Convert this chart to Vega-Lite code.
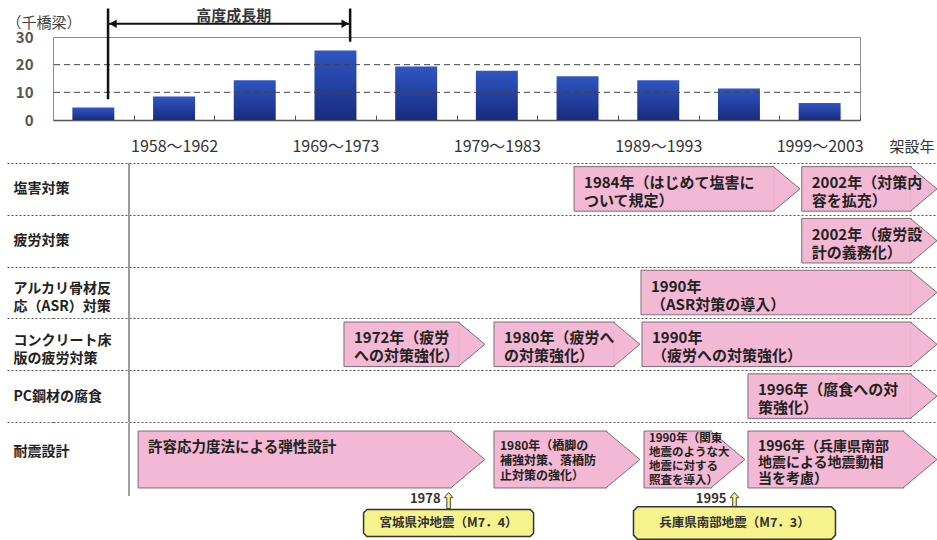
{
  "$schema": "https://vega.github.io/schema/vega-lite/v6.json",
  "background": "white",
  "padding": {"top": 6, "left": 5, "right": 0, "bottom": 0},
  "config": {"font": "Noto Sans CJK JP", "view": {"stroke": null}, "axisY": {"labelOverlap": false}},
  "spacing": 1,
  "resolve": {"scale": {"x": "independent", "y": "independent"}},
  "vconcat": [
    {
      "width": 807,
      "height": 83,
      "view": {"stroke": "#8c8c8c"},
      "layer": [
        {
          "data": {"values": [
            {"period": "1953～1957", "bridges": 4.5},
            {"period": "1958～1962", "bridges": 8.5},
            {"period": "1963～1968", "bridges": 14.4},
            {"period": "1969～1973", "bridges": 25.1},
            {"period": "1974～1978", "bridges": 19.3},
            {"period": "1979～1983", "bridges": 17.8},
            {"period": "1984～1988", "bridges": 15.8},
            {"period": "1989～1993", "bridges": 14.4},
            {"period": "1994～1998", "bridges": 11.4},
            {"period": "1999～2003", "bridges": 6.1}
          ]},
          "mark": {"type": "bar", "color": {"gradient": "linear", "x1": 0, "y1": 0, "x2": 0, "y2": 1, "stops": [{"offset": 0, "color": "#2f56c2"}, {"offset": 1, "color": "#182b80"}]}},
          "encoding": {
            "x": {
              "field": "period", "type": "ordinal",
              "scale": {"domain": ["1953～1957", "1958～1962", "1963～1968", "1969～1973", "1974～1978", "1979～1983", "1984～1988", "1989～1993", "1994～1998", "1999～2003"], "paddingInner": 0.48, "paddingOuter": 0.24},
              "axis": {
                "title": "架設年", "titleX": 836, "titleY": 26, "titleAlign": "left", "titleBaseline": "middle", "titleFontSize": 15, "titleFontWeight": "normal", "titleColor": "#333",
                "labelExpr": "indexof(['1958～1962','1969～1973','1979～1983','1989～1993','1999～2003'], datum.value) >= 0 ? datum.value : ''",
                "labelAngle": 0, "labelFontSize": 16, "labelColor": "#333", "labelBaseline": "middle", "labelPadding": 31, "labelOverlap": false,
                "tickSize": -5, "tickOffset": 40.35, "labelOffset": -40.35, "tickColor": "#555",
                "domainColor": "#555", "domainWidth": 1.5
              }
            },
            "y": {
              "field": "bridges", "type": "quantitative",
              "scale": {"domain": [0, 30], "nice": false},
              "axis": {
                "values": [0, 10, 20, 30], "tickCount": 4, "labelOverlap": false, "labelFlush": false, "labelBound": false,
                "title": "（千橋梁）", "titleAngle": 0, "titleX": -47, "titleY": -15, "titleAlign": "left", "titleBaseline": "middle", "titleFontSize": 15, "titleFontWeight": "normal", "titleColor": "#444",
                "labelFontSize": 15, "labelFontWeight": "bold", "labelColor": "#555", "ticks": false, "labelPadding": 20, "domain": false,
                "grid": false
              }
            }
          }
        },
        {
          "data": {"values": [{"bridges": 10}, {"bridges": 20}]},
          "mark": {"type": "rule", "color": "#444", "strokeDash": [6, 4], "strokeWidth": 1},
          "encoding": {
            "y": {"field": "bridges", "type": "quantitative"}
          }
        },
        {
          "data": {"values": [
            {"period": "1953～1957", "top": 40.3, "bottom": 7.5},
            {"period": "1969～1973", "top": 40.3, "bottom": 28.3}
          ]},
          "mark": {"type": "rule", "strokeWidth": 2.5, "color": "#111"},
          "encoding": {
            "x": {"field": "period", "type": "ordinal", "bandPosition": 0.85},
            "y": {"field": "top", "type": "quantitative"},
            "y2": {"field": "bottom"}
          }
        },
        {
          "data": {"values": [
            {"period": "1953～1957", "level": 34.8, "end": "left"},
            {"period": "1969～1973", "level": 34.8, "end": "right"}
          ]},
          "layer": [
            {
              "mark": {"type": "line", "strokeWidth": 2, "color": "#111"},
              "encoding": {
                "x": {"field": "period", "type": "ordinal", "bandPosition": 0.85},
                "y": {"field": "level", "type": "quantitative"}
              }
            },
            {
              "transform": [{"filter": "datum.end === 'left'"}],
              "mark": {"type": "point", "shape": "triangle-left", "filled": true, "opacity": 1, "size": 70, "color": "#111", "xOffset": 5},
              "encoding": {
                "x": {"field": "period", "type": "ordinal", "bandPosition": 0.85},
                "y": {"field": "level", "type": "quantitative"}
              }
            },
            {
              "transform": [{"filter": "datum.end === 'right'"}],
              "mark": {"type": "point", "shape": "triangle-right", "filled": true, "opacity": 1, "size": 70, "color": "#111", "xOffset": -5},
              "encoding": {
                "x": {"field": "period", "type": "ordinal", "bandPosition": 0.85},
                "y": {"field": "level", "type": "quantitative"}
              }
            }
          ]
        },
        {
          "data": {"values": [{"period": "1963～1968", "level": 37.7, "label": "高度成長期"}]},
          "mark": {"type": "text", "fontSize": 15, "fontWeight": "bold", "color": "#333", "baseline": "middle"},
          "encoding": {
            "x": {"field": "period", "type": "ordinal", "bandPosition": 0},
            "y": {"field": "level", "type": "quantitative"},
            "text": {"field": "label"}
          }
        }
      ]
    },
    {
      "spacing": -7,
      "resolve": {"scale": {"x": "independent", "y": "independent"}},
      "vconcat": [
        {
          "width": 885,
          "height": 259,
          "data": {"values": [
            {"row": "塩害対策", "start": 1985.46, "end": 1998.95, "label": "1984年（はじめて塩害に\nついて規定）"},
            {"row": "塩害対策", "start": 1999.0, "end": 2007.1, "label": "2002年（対策内\n容を拡充）"},
            {"row": "疲労対策", "start": 1999.0, "end": 2007.1, "label": "2002年（疲労設\n計の義務化）"},
            {"row": "アルカリ骨材反\n応（ASR）対策", "start": 1989.44, "end": 2007.1, "label": "1990年\n（ASR対策の導入）"},
            {"row": "コンクリート床\n版の疲労対策", "start": 1971.78, "end": 1980.22, "label": "1972年（疲労\nへの対策強化）"},
            {"row": "コンクリート床\n版の疲労対策", "start": 1980.7, "end": 1989.44, "label": "1980年（疲労へ\nの対策強化）"},
            {"row": "コンクリート床\n版の疲労対策", "start": 1989.5, "end": 2007.1, "label": "1990年\n（疲労への対策強化）"},
            {"row": "PC鋼材の腐食", "start": 1995.8, "end": 2007.1, "label": "1996年（腐食への対\n策強化）"}
          ]},
          "layer": [
            {
              "mark": {"type": "bar", "height": {"band": 0.86}, "fill": "#f3b8d3", "stroke": "#806b76", "strokeWidth": 1, "x2Offset": -26.7},
              "encoding": {
                "x": {"field": "start", "type": "quantitative", "scale": {"domain": [1954.48, 2007.1], "nice": false, "zero": false}, "axis": null},
                "x2": {"field": "end"},
                "y": {
                  "field": "row", "type": "nominal", "sort": null,
                  "scale": {"domain": ["塩害対策", "疲労対策", "アルカリ骨材反\n応（ASR）対策", "コンクリート床\n版の疲労対策", "PC鋼材の腐食"], "paddingInner": 0, "paddingOuter": 0},
                  "axis": {
                    "title": null, "labelExpr": "split(datum.label, '\\n')", "labelAlign": "left", "labelPadding": -7,
                    "labelBaseline": {"condition": {"test": "isString(datum.value) && indexof(datum.value, '\\n') >= 0", "value": "alphabetic"}, "value": "middle"},
                    "labelFontSize": 14, "labelFontWeight": "bold", "labelColor": "#222", "labelLineHeight": 18, "labelLimit": 0,
                    "tickSize": 47, "tickBand": "extent", "tickColor": "#555", "tickDash": [2, 2],
                    "grid": true, "gridColor": "#555", "gridDash": [2, 2], "gridOpacity": 1,
                    "domain": false
                  }
                }
              }
            },
            {
              "mark": {"type": "point", "shape": "M-0.6,-1L0.6,0L-0.6,1", "size": 1980, "filled": true, "fill": "#f3b8d3", "stroke": "#806b76", "strokeWidth": 1, "opacity": 1, "xOffset": -14.35},
              "encoding": {
                "x": {"field": "end", "type": "quantitative", "scale": {"domain": [1954.48, 2007.1], "nice": false, "zero": false}, "axis": null},
                "y": {"field": "row", "type": "nominal", "sort": null}
              }
            },
            {
              "mark": {"type": "text", "align": "left", "baseline": "middle", "dx": 10, "dy": -6, "fontSize": 15, "fontWeight": "bold", "lineHeight": 18, "lineBreak": "\n", "color": "#222"},
              "encoding": {
                "x": {"field": "start", "type": "quantitative", "scale": {"domain": [1954.48, 2007.1], "nice": false, "zero": false}, "axis": null},
                "y": {"field": "row", "type": "nominal", "sort": null},
                "text": {"field": "label"}
              }
            },
            {
              "mark": {"type": "rule", "color": "#999", "strokeWidth": 1},
              "encoding": {
                "x": {"datum": 1959, "type": "quantitative", "axis": null}
              }
            }
          ]
        },
        {
          "width": 885,
          "height": 73,
          "data": {"values": [
            {"row": "耐震設計", "start": 1959.54, "end": 1980.22, "label": "許容応力度法による弾性設計"},
            {"row": "耐震設計", "start": 1980.7, "end": 1989.44, "label": "1980年（橋脚の\n補強対策、落橋防\n止対策の強化）"},
            {"row": "耐震設計", "start": 1989.62, "end": 1995.68, "label": "1990年（関東\n地震のような大\n地震に対する\n照査を導入）"},
            {"row": "耐震設計", "start": 1995.8, "end": 2007.1, "label": "1996年（兵庫県南部\n地震による地震動相\n当を考慮）"}
          ]},
          "layer": [
            {
              "mark": {"type": "bar", "height": {"band": 0.78}, "fill": "#f3b8d3", "stroke": "#806b76", "strokeWidth": 1, "x2Offset": -34.2},
              "encoding": {
                "x": {"field": "start", "type": "quantitative", "scale": {"domain": [1954.48, 2007.1], "nice": false, "zero": false}, "axis": null},
                "x2": {"field": "end"},
                "y": {
                  "field": "row", "type": "nominal",
                  "scale": {"paddingInner": 0, "paddingOuter": 0},
                  "axis": {
                    "title": null, "labelAlign": "left", "labelBaseline": "middle", "labelPadding": -7, "labelOffset": -8,
                    "labelFontSize": 14, "labelFontWeight": "bold", "labelColor": "#222", "labelLimit": 0,
                    "tickSize": 47, "tickBand": "extent", "tickColor": "transparent",
                    "grid": false, "domain": false
                  }
                }
              }
            },
            {
              "mark": {"type": "point", "shape": "M-0.6,-1L0.6,0L-0.6,1", "size": 3243, "filled": true, "fill": "#f3b8d3", "stroke": "#806b76", "strokeWidth": 1, "opacity": 1, "xOffset": -18.1},
              "encoding": {
                "x": {"field": "end", "type": "quantitative", "scale": {"domain": [1954.48, 2007.1], "nice": false, "zero": false}, "axis": null},
                "y": {"field": "row", "type": "nominal"}
              }
            },
            {
              "transform": [{"filter": "length(split(datum.label, '\\n')) == 1"}],
              "mark": {"type": "text", "align": "left", "baseline": "middle", "dx": 10, "dy": -12, "fontSize": 14.5, "fontWeight": "bold", "color": "#222"},
              "encoding": {
                "x": {"field": "start", "type": "quantitative", "scale": {"domain": [1954.48, 2007.1], "nice": false, "zero": false}, "axis": null},
                "y": {"field": "row", "type": "nominal"},
                "text": {"field": "label"}
              }
            },
            {
              "transform": [{"filter": "length(split(datum.label, '\\n')) == 3 && datum.end - datum.start >= 10"}],
              "mark": {"type": "text", "align": "left", "baseline": "middle", "dx": 10, "dy": -13, "fontSize": 14, "fontWeight": "bold", "lineHeight": 16, "lineBreak": "\n", "color": "#222"},
              "encoding": {
                "x": {"field": "start", "type": "quantitative", "scale": {"domain": [1954.48, 2007.1], "nice": false, "zero": false}, "axis": null},
                "y": {"field": "row", "type": "nominal"},
                "text": {"field": "label"}
              }
            },
            {
              "transform": [{"filter": "length(split(datum.label, '\\n')) == 3 && datum.end - datum.start < 10"}],
              "mark": {"type": "text", "align": "left", "baseline": "middle", "dx": 6, "dy": -14, "fontSize": 12, "fontWeight": "bold", "lineHeight": 15, "lineBreak": "\n", "color": "#222"},
              "encoding": {
                "x": {"field": "start", "type": "quantitative", "scale": {"domain": [1954.48, 2007.1], "nice": false, "zero": false}, "axis": null},
                "y": {"field": "row", "type": "nominal"},
                "text": {"field": "label"}
              }
            },
            {
              "transform": [{"filter": "length(split(datum.label, '\\n')) == 4"}],
              "mark": {"type": "text", "align": "left", "baseline": "middle", "dx": 5, "dy": -21, "fontSize": 11.5, "fontWeight": "bold", "lineHeight": 14, "lineBreak": "\n", "color": "#222"},
              "encoding": {
                "x": {"field": "start", "type": "quantitative", "scale": {"domain": [1954.48, 2007.1], "nice": false, "zero": false}, "axis": null},
                "y": {"field": "row", "type": "nominal"},
                "text": {"field": "label"}
              }
            },
            {
              "mark": {"type": "rule", "color": "#999", "strokeWidth": 1},
              "encoding": {
                "x": {"datum": 1959, "type": "quantitative", "axis": null}
              }
            },
            {
              "data": {"values": [
                {"year": 1978, "name": "宮城県沖地震（M7．4）"},
                {"year": 1995, "name": "兵庫県南部地震（M7．3）"}
              ]},
              "layer": [
                {
                  "mark": {"type": "point", "shape": "M0,-1L0.55,-0.35L0.22,-0.35L0.22,1L-0.22,1L-0.22,-0.35L-0.55,-0.35Z", "size": 256, "filled": true, "fill": "#f6f28c", "stroke": "#444", "strokeWidth": 1, "opacity": 1, "yOffset": 41},
                  "encoding": {
                    "x": {"field": "year", "type": "quantitative", "scale": {"domain": [1954.48, 2007.1], "nice": false, "zero": false}, "axis": null},
                    "y": {"datum": "耐震設計", "type": "nominal"}
                  }
                },
                {
                  "mark": {"type": "text", "align": "right", "baseline": "middle", "dx": -8, "yOffset": 39, "fontSize": 13, "fontWeight": "bold", "color": "#333"},
                  "encoding": {
                    "x": {"field": "year", "type": "quantitative", "scale": {"domain": [1954.48, 2007.1], "nice": false, "zero": false}, "axis": null},
                    "y": {"datum": "耐震設計", "type": "nominal"},
                    "text": {"field": "year", "type": "quantitative", "format": "d"}
                  }
                },
                {
                  "mark": {"type": "point", "shape": "M-0.96,-0.16H0.96L1,-0.12V0.12L0.96,0.16H-0.96L-1,0.12V-0.12Z", "filled": true, "fill": "#f6f28c", "stroke": "#333", "strokeWidth": 1.5, "opacity": 1, "yOffset": 63.5},
                  "encoding": {
                    "x": {"field": "year", "type": "quantitative", "scale": {"domain": [1954.48, 2007.1], "nice": false, "zero": false}, "axis": null},
                    "y": {"datum": "耐震設計", "type": "nominal"},
                    "size": {"condition": {"test": "datum.year === 1995", "value": 40804}, "value": 28900}
                  }
                },
                {
                  "mark": {"type": "text", "align": "center", "baseline": "middle", "yOffset": 63.5, "fontSize": 12.5, "fontWeight": "bold", "color": "#333"},
                  "encoding": {
                    "x": {"field": "year", "type": "quantitative", "scale": {"domain": [1954.48, 2007.1], "nice": false, "zero": false}, "axis": null},
                    "y": {"datum": "耐震設計", "type": "nominal"},
                    "text": {"field": "name"}
                  }
                }
              ]
            }
          ]
        }
      ]
    }
  ]
}
